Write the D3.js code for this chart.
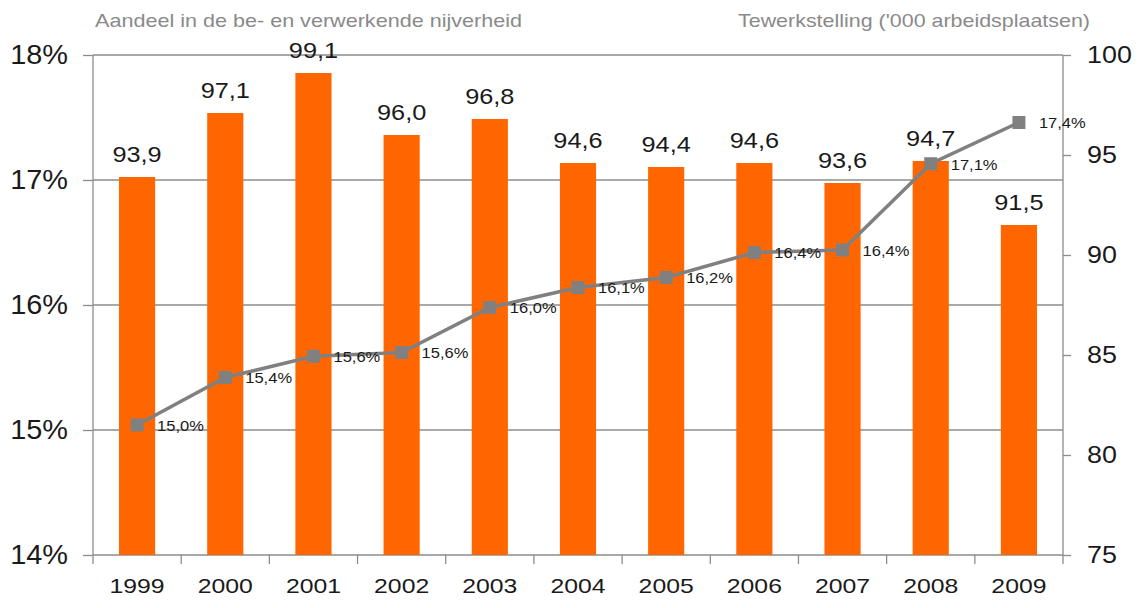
<!DOCTYPE html>
<html><head><meta charset="utf-8">
<script src="https://cdn.jsdelivr.net/npm/d3@7"></script>
<style>body{margin:0;background:#fff;}svg{display:block;font-family:"Liberation Sans",Arial,sans-serif;}</style>
</head><body><svg id="c" width="1144" height="608"></svg>
<script>
const years = ["1999","2000","2001","2002","2003","2004","2005","2006","2007","2008","2009"];
const employment = [93.9, 97.1, 99.1, 96.0, 96.8, 94.6, 94.4, 94.6, 93.6, 94.7, 91.5];
const share = [15.04, 15.42, 15.59, 15.62, 15.98, 16.14, 16.22, 16.42, 16.44, 17.13, 17.46];
const shareLabels = ["15,0%","15,4%","15,6%","15,6%","16,0%","16,1%","16,2%","16,4%","16,4%","17,1%","17,4%"];
const leftTicks = [14, 15, 16, 17, 18];
const rightTicks = [75, 80, 85, 90, 95, 100];
const leftTitle = "Aandeel in de be- en verwerkende nijverheid";
const rightTitle = "Tewerkstelling ('000 arbeidsplaatsen)";

const svg = d3.select("#c");
const L = 93, R = 1063, T = 55, B = 555;
const x = d3.scaleBand().domain(years).range([L, R]).paddingInner(0.59).paddingOuter(0.295);
const yL = d3.scaleLinear().domain([14, 18]).range([B, T]);
const yR = d3.scaleLinear().domain([75, 100]).range([B, T]);
const fmt = d3.format(".1f");
const comma = v => fmt(v).replace(".", ",");
function stretch(sel, f) {
  sel.each(function () {
    const w = this.getComputedTextLength();
    this.setAttribute("textLength", w * f);
    this.setAttribute("lengthAdjust", "spacingAndGlyphs");
  });
}

// gridlines
svg.append("g").selectAll("line").data(leftTicks).join("line")
  .attr("x1", L).attr("x2", R).attr("y1", d => yL(d)).attr("y2", d => yL(d))
  .attr("stroke", "#8c8c8c").attr("stroke-width", 1.3);

// bars
svg.append("g").selectAll("rect").data(employment).join("rect")
  .attr("x", (d, i) => x(years[i])).attr("width", x.bandwidth())
  .attr("y", d => yR(d)).attr("height", d => B - yR(d))
  .attr("fill", "#ff6600");

// bar labels
const bl = svg.append("g").selectAll("text").data(employment).join("text")
  .attr("x", (d, i) => x(years[i]) + x.bandwidth() / 2).attr("y", d => yR(d) - 15)
  .attr("text-anchor", "middle").attr("font-size", 22).attr("fill", "#1a1a1a")
  .text(d => comma(d));
stretch(bl, 1.15);

// axes
const axL = d3.axisLeft(yL).tickValues(leftTicks).tickFormat(d => d + "%").tickSize(10).tickPadding(15);
const gL = svg.append("g").attr("transform", `translate(${L},0)`).call(axL);
const axR = d3.axisRight(yR).tickValues(rightTicks).tickSize(8).tickPadding(16);
const gR = svg.append("g").attr("transform", `translate(${R},0)`).call(axR);
const xEdges = d3.scaleLinear().domain([0, years.length]).range([L, R]);
const gX = svg.append("g").attr("transform", `translate(0,${B})`).call(
  d3.axisBottom(x).tickSize(0).tickPadding(23));
gX.select(".domain").remove();
gX.selectAll("line.edge").data(d3.range(years.length + 1)).join("line").attr("class", "edge")
  .attr("x1", d => xEdges(d)).attr("x2", d => xEdges(d)).attr("y1", 0).attr("y2", 9)
  .attr("stroke", "#8c8c8c").attr("stroke-width", 1.3);
gX.selectAll(".tick text").attr("font-size", 21).attr("fill", "#1a1a1a").attr("font-family", "Liberation Sans, Arial, sans-serif");
stretch(gX.selectAll(".tick text"), 1.18);
[gL, gR].forEach(g => {
  g.select(".domain").attr("stroke", "#8c8c8c").attr("stroke-width", 1.3);
  g.selectAll(".tick line").attr("stroke", "#8c8c8c").attr("stroke-width", 1.3);
  g.selectAll(".tick text").attr("fill", "#1a1a1a").attr("font-family", "Liberation Sans, Arial, sans-serif");
});
gL.selectAll(".tick text").attr("font-size", 27);
gR.selectAll(".tick text").attr("font-size", 24);
stretch(gL.selectAll(".tick text"), 1.07);
stretch(gR.selectAll(".tick text"), 1.12);
gL.select(".domain").attr("d", `M0,${B}V${T}`);
gR.select(".domain").attr("d", `M0,${B}V${T}`);

// line
const cx = i => x(years[i]) + x.bandwidth() / 2;
const line = d3.line().x((d, i) => cx(i)).y(d => yL(d));
svg.append("path").datum(share).attr("d", line)
  .attr("fill", "none").attr("stroke", "#808080").attr("stroke-width", 3.5);
svg.append("g").selectAll("rect").data(share).join("rect")
  .attr("x", (d, i) => cx(i) - 6.5).attr("y", d => yL(d) - 6.5)
  .attr("width", 13).attr("height", 13).attr("fill", "#808080");
const ll = svg.append("g").selectAll("text").data(share).join("text")
  .attr("x", (d, i) => cx(i) + 20).attr("y", d => yL(d) + 2)
  .attr("dominant-baseline", "middle").attr("font-size", 15).attr("fill", "#1a1a1a")
  .text((d, i) => shareLabels[i]);
stretch(ll, 1.1);

// titles
svg.append("text").attr("x", 95).attr("y", 27).attr("font-size", 19).attr("fill", "#8a8a8a")
  .attr("textLength", 427).attr("lengthAdjust", "spacingAndGlyphs").text(leftTitle);
svg.append("text").attr("x", 738).attr("y", 27).attr("font-size", 19).attr("fill", "#8a8a8a")
  .attr("textLength", 352).attr("lengthAdjust", "spacingAndGlyphs").text(rightTitle);
</script></body></html>
